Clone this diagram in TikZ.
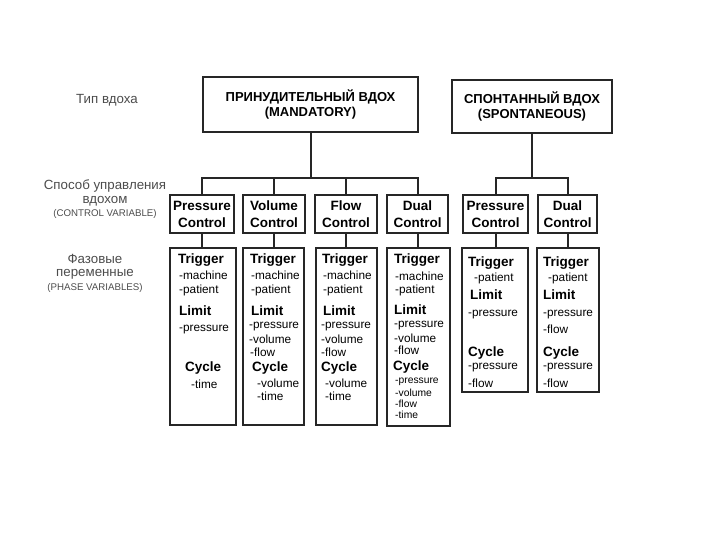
\documentclass[tikz,border=0pt]{standalone}
\usepackage{fontspec}
\setmainfont{Liberation Sans}
\begin{document}
\begin{tikzpicture}[x=1pt,y=-1pt,
  box/.style={draw=black!85, line width=2pt, rectangle, inner sep=0pt},
  ttl/.style={box, font=\fontsize{13}{15}\selectfont\bfseries, align=center},
  ctl/.style={box, font=\fontsize{13.5}{17}\selectfont\bfseries, align=center},
  hd/.style={anchor=west, font=\fontsize{13.5}{14}\selectfont\bfseries, inner sep=0pt},
  it/.style={anchor=west, font=\fontsize{11.8}{12}\selectfont, inner sep=0pt},
  its/.style={anchor=west, font=\fontsize{10.3}{11}\selectfont, inner sep=0pt},
  side/.style={align=center, text=black!70, font=\fontsize{13.3}{13.5}\selectfont, inner sep=0pt},
  wire/.style={draw=black!85, line width=2pt}
]
\useasboundingbox (0,0) rectangle (720,540);

% side labels
\node[side] (s1) at (107,100.5) {Тип вдоха};
\node[side] (s2) at (105,199.5) {Способ управления\\вдохом\\{\fontsize{9.7}{13.5}\selectfont (CONTROL VARIABLE)}};
\node[side] (s3) at (95,273) {Фазовые\\переменные\\{\fontsize{9.7}{13.5}\selectfont (PHASE VARIABLES)}};

% top boxes
\node[ttl, minimum width=215pt, minimum height=55pt] (m) at (310.5,104.5) {ПРИНУДИТЕЛЬНЫЙ ВДОХ\\(MANDATORY)};
\node[ttl, minimum width=160pt, minimum height=53pt] (s) at (532,106.5) {СПОНТАННЫЙ ВДОХ\\(SPONTANEOUS)};

% control boxes
\node[ctl, minimum width=64pt, minimum height=38pt] (pc1) at (202,214) {Pressure\\Control};
\node[ctl, minimum width=62pt, minimum height=38pt] (vc) at (274,214) {Volume\\Control};
\node[ctl, minimum width=62pt, minimum height=38pt] (fc) at (346,214) {Flow\\Control};
\node[ctl, minimum width=61pt, minimum height=38pt] (dc) at (417.5,214) {Dual\\Control};
\node[ctl, minimum width=65pt, minimum height=38pt] (pc2) at (495.5,214) {Pressure\\Control};
\node[ctl, minimum width=59pt, minimum height=38pt] (dc2) at (567.5,214) {Dual\\Control};

% phase boxes
\node[box, minimum width=66pt, minimum height=177pt] (p1) at (203,336.5) {};
\node[box, minimum width=61pt, minimum height=177pt] (p2) at (273.5,336.5) {};
\node[box, minimum width=61pt, minimum height=177pt] (p3) at (346.5,336.5) {};
\node[box, minimum width=63pt, minimum height=178pt] (p4) at (418.5,337) {};
\node[box, minimum width=66pt, minimum height=144pt] (p5) at (495,320) {};
\node[box, minimum width=62pt, minimum height=144pt] (p6) at (568,320) {};

% connectors
\coordinate (mbus) at (308,178);
\coordinate (sbus) at (532,178);
\draw[wire] (m.south) -- (m.south|-mbus);
\draw[wire] (pc1.north) -- (pc1.north|-mbus) -- (dc.north|-mbus) -- (dc.north);
\draw[wire] (vc.north) -- (vc.north|-mbus);
\draw[wire] (fc.north) -- (fc.north|-mbus);
\draw[wire] (s.south) -- (s.south|-sbus);
\draw[wire] (pc2.north) -- (pc2.north|-sbus) -- (dc2.north|-sbus) -- (dc2.north);
\draw[wire] (pc1.south) -- (pc1.south|-p1.north);
\draw[wire] (vc.south) -- (vc.south|-p2.north);
\draw[wire] (fc.south) -- (fc.south|-p3.north);
\draw[wire] (dc.south) -- (dc.south|-p4.north);
\draw[wire] (pc2.south) -- (pc2.south|-p5.north);
\draw[wire] (dc2.south) -- (dc2.south|-p6.north);

% box 1
\node[hd] (a1) at (178,260) {Trigger};
\node[it] (a2) at (179,275) {-machine};
\node[it] (a3) at (179,290) {-patient};
\node[hd] (a4) at (179,311) {Limit};
\node[it] (a5) at (179,330) {-pressure};
\node[hd] (a6) at (185,368) {Cycle};
\node[it] (a7) at (191,384) {-time};
% box 2
\node[hd] (b1) at (250,260) {Trigger};
\node[it] (b2) at (251,275) {-machine};
\node[it] (b3) at (251,290) {-patient};
\node[hd] (b4) at (251,311) {Limit};
\node[it] (b5) at (249,327) {-pressure};
\node[it] (b6) at (249,339) {-volume};
\node[it] (b7) at (250,352) {-flow};
\node[hd] (b8) at (252,368) {Cycle};
\node[it] (b9) at (257,383) {-volume};
\node[it] (b10) at (257,396) {-time};
% box 3
\node[hd] (c1) at (322,260) {Trigger};
\node[it] (c2) at (323,275) {-machine};
\node[it] (c3) at (323,290) {-patient};
\node[hd] (c4) at (323,311) {Limit};
\node[it] (c5) at (321,327) {-pressure};
\node[it] (c6) at (321,339) {-volume};
\node[it] (c7) at (321,352) {-flow};
\node[hd] (c8) at (321,368) {Cycle};
\node[it] (c9) at (325,383) {-volume};
\node[it] (c10) at (325,396) {-time};
% box 4
\node[hd] (d1) at (394,260) {Trigger};
\node[it] (d2) at (395,276) {-machine};
\node[it] (d3) at (395,290) {-patient};
\node[hd] (d4) at (394,310) {Limit};
\node[it] (d5) at (394,326) {-pressure};
\node[it] (d6) at (394,338) {-volume};
\node[it] (d7) at (394,350.5) {-flow};
\node[hd] (d8) at (393,367) {Cycle};
\node[its] (d9) at (395,382) {-pressure};
\node[its] (d10) at (395,393) {-volume};
\node[its] (d11) at (395,404) {-flow};
\node[its] (d12) at (395,415) {-time};
% box 5
\node[hd] (e1) at (468,263) {Trigger};
\node[it] (e2) at (474,278) {-patient};
\node[hd] (e3) at (470,295) {Limit};
\node[it] (e4) at (468,315) {-pressure};
\node[hd] (e5) at (468,353) {Cycle};
\node[it] (e6) at (468,368) {-pressure};
\node[it] (e7) at (468,383) {-flow};
% box 6
\node[hd] (f1) at (543,263) {Trigger};
\node[it] (f2) at (548,278) {-patient};
\node[hd] (f3) at (543,295) {Limit};
\node[it] (f4) at (543,315) {-pressure};
\node[it] (f5) at (543,329) {-flow};
\node[hd] (f6) at (543,353) {Cycle};
\node[it] (f7) at (543,368) {-pressure};
\node[it] (f8) at (543,383) {-flow};
\end{tikzpicture}
\end{document}
